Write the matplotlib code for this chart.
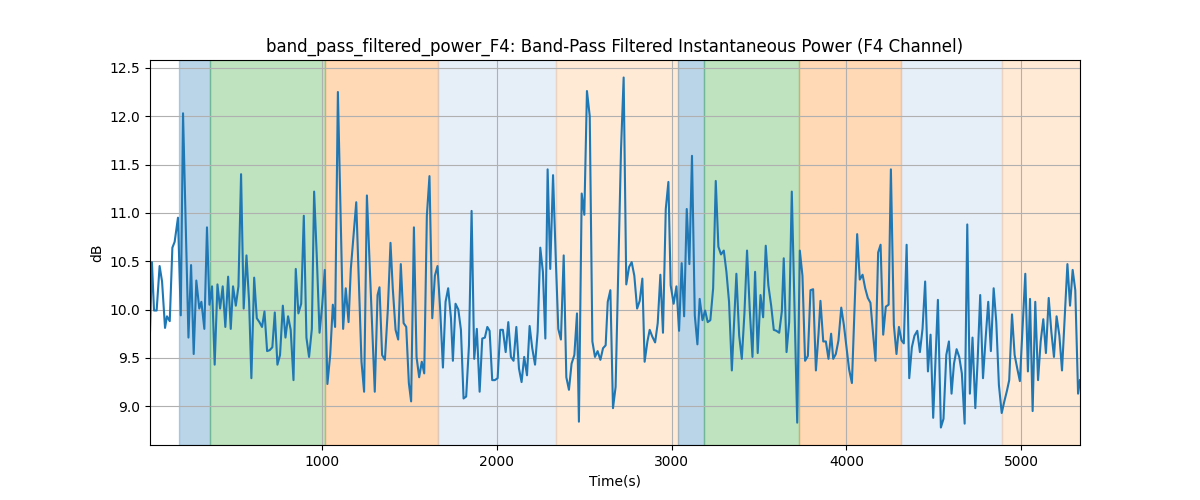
import numpy as np
import matplotlib
matplotlib.use('Agg')
import matplotlib.pyplot as plt

# time stamps (s) and band-pass filtered power (dB)
times = [15, 26, 38, 53, 70, 84, 101, 112, 128, 143, 156, 175, 191, 204, 235,
         250, 265, 280, 297, 309, 326, 341, 355, 370, 385, 401, 416, 431, 446,
         462, 477, 490, 506, 521, 536, 551, 567, 582, 595, 611, 626, 641, 656,
         670, 685, 700, 715, 729, 744, 759, 775, 790, 805, 820, 836, 849, 864,
         880, 895, 910, 925, 941, 954, 969, 985, 1000, 1015, 1030, 1046, 1061,
         1074, 1090, 1120, 1135, 1151, 1164, 1195, 1225, 1240, 1256, 1301, 1317,
         1328,
         1343, 1359, 1376, 1391, 1404, 1420, 1435, 1450, 1466, 1481, 1496, 1509,
         1525, 1540, 1555, 1570, 1584, 1599, 1614, 1630, 1645, 1660, 1675, 1691,
         1706, 1721, 1737, 1748, 1763, 1779, 1794, 1809, 1824, 1840, 1855, 1870,
         1885, 1901, 1916, 1931, 1945, 1958, 1973, 1988, 2004, 2019, 2034, 2050,
         2065, 2080, 2095, 2111, 2126, 2141, 2156, 2172, 2187, 2202, 2218, 2233,
         2248, 2263, 2277, 2290, 2305, 2321, 2336, 2351, 2366, 2382, 2397, 2412,
         2427, 2443, 2458, 2469, 2485, 2500, 2515, 2531, 2546, 2561, 2576, 2592,
         2607, 2622,
         2634, 2649, 2664, 2679, 2710, 2725, 2740, 2756, 2771, 2786, 2802, 2817,
         2832, 2845, 2861, 2874, 2889, 2905, 2920, 2935, 2950, 2966, 2981, 2994,
         3011, 3027, 3042, 3057, 3071, 3086, 3101, 3116, 3132, 3147, 3160, 3176,
         3191, 3206, 3221, 3237, 3252, 3267, 3282, 3298, 3313, 3328, 3344, 3359,
         3370, 3386, 3401, 3416, 3431, 3447, 3462, 3477, 3492, 3508, 3523, 3538,
         3553, 3569, 3584, 3599, 3615, 3630, 3641, 3657, 3672, 3687, 3718, 3733,
         3748, 3763, 3779, 3794, 3809, 3825, 3840, 3851, 3867, 3882, 3897, 3912,
         3924, 3939, 3954, 3970, 3985, 4000, 4015, 4031, 4046, 4061, 4076, 4092,
         4107, 4122, 4137, 4153, 4166, 4181, 4195, 4210, 4225, 4241, 4254, 4271,
         4286, 4300, 4315, 4328, 4344, 4359, 4374, 4389, 4405, 4420, 4435, 4450,
         4466, 4481, 4496, 4523, 4540, 4555, 4571, 4586, 4601, 4615, 4630, 4645,
         4660, 4676, 4691, 4706, 4721, 4737, 4750, 4765, 4781, 4796, 4811, 4826,
         4842, 4857, 4872, 4888, 4903, 4918, 4931, 4947, 4962, 4977, 4992, 5023,
         5038, 5050, 5065, 5080, 5096, 5111, 5126, 5141, 5157, 5172, 5187, 5202,
         5218, 5233, 5264, 5279, 5294, 5309, 5325, 5336]

power_db = [9.77, 10.49, 9.99, 9.99, 10.45, 10.29, 9.81, 9.93, 9.88, 10.64, 10.70,
            10.95, 9.94, 12.03, 9.71, 10.46, 9.54, 10.30, 10.01, 10.08, 9.80,
            10.85, 10.05, 10.24, 9.43, 10.26, 10.01, 10.24, 9.82, 10.34, 9.80,
            10.24, 10.04, 10.24, 11.40, 10.01, 10.56, 10.08, 9.29, 10.33, 9.91,
            9.87, 9.82, 9.98, 9.57, 9.58, 9.61, 9.97, 9.43, 9.53, 10.04, 9.71,
            9.93, 9.79, 9.27, 10.42, 9.96, 10.06, 10.97, 9.71, 9.51, 9.80, 11.22,
            10.56, 9.76, 10.04, 10.41, 9.23, 9.53, 10.05, 9.82, 12.25, 9.80,
            10.22, 9.87, 10.42, 11.11, 9.46, 9.15, 11.18, 9.15, 10.15, 10.23,
            9.53, 9.48, 10.01, 10.69, 10.22, 9.79, 9.69, 10.47, 9.86, 9.82, 9.24,
            9.05, 10.85, 9.51, 9.30, 9.46, 9.34, 10.97, 11.38, 9.91, 10.35, 10.45,
            10.01, 9.40, 10.08, 10.22, 9.91, 9.47, 10.06, 10.00, 9.79, 9.08, 9.10,
            9.63, 11.02, 9.49, 9.80, 9.15, 9.70, 9.71, 9.82, 9.78, 9.27, 9.27,
            9.29, 9.79, 9.79, 9.56, 9.87, 9.51, 9.47, 9.82, 9.39, 9.25, 9.51,
            9.32, 9.83, 9.60, 9.43, 9.77, 10.64, 10.39, 9.70, 11.45, 10.42, 11.39,
            10.56, 9.80, 9.69, 10.56, 9.30, 9.17, 9.44, 9.53, 9.96, 8.84, 11.20,
            10.98, 12.26, 12.00, 9.67, 9.51, 9.57, 9.48, 9.60, 9.63,
            10.08, 10.20, 8.98, 9.20, 11.66, 12.40, 10.26, 10.44, 10.49, 10.35,
            10.01, 10.09, 10.32, 9.46, 9.67, 9.79, 9.72, 9.66, 9.86, 10.36, 9.76,
            11.04, 11.32, 10.25, 10.06, 10.24, 9.78, 10.48, 9.93, 11.04, 10.47,
            11.59, 9.94, 9.64, 10.11, 9.89, 9.99, 9.87, 9.89, 10.22, 11.33, 10.65,
            10.57, 10.61, 10.39, 10.08, 9.37, 9.94, 10.37, 9.73, 9.49, 9.96, 10.61,
            9.98, 9.51, 10.39, 9.55, 10.15, 9.92, 10.66, 10.25, 10.04, 9.79, 9.78,
            9.76, 9.98, 10.53, 9.56, 9.87, 11.22, 8.83, 10.61, 10.35, 9.47, 9.52,
            10.20, 10.21, 9.37, 9.75, 10.09, 9.67, 9.67, 9.49, 9.75,
            9.49, 9.54, 9.68, 10.02, 9.84, 9.61, 9.38, 9.24, 10.01, 10.78, 10.31,
            10.36, 10.22, 10.12, 10.07, 9.73, 9.47, 10.59, 10.67, 9.74, 10.03,
            10.05, 11.45, 9.84, 9.54, 9.82, 9.68, 9.65, 10.67, 9.29, 9.61, 9.73,
            9.78, 9.56, 9.80, 10.29, 9.36, 9.74, 8.88, 10.10, 8.78, 8.87, 9.53,
            9.67, 9.13, 9.44, 9.59, 9.51, 9.34, 8.82, 10.88, 9.13, 9.71, 8.98,
            9.46, 10.15, 9.29, 9.70, 10.08, 9.57, 10.22, 9.87, 9.22, 8.93, 9.05,
            9.16, 9.27, 9.95, 9.53, 9.39, 9.26, 10.37, 9.36, 10.11, 8.95, 10.08,
            9.27, 9.67, 9.90, 9.55, 10.12, 9.77, 9.51, 9.93, 9.73, 9.37, 10.47,
            10.04, 10.41, 10.20, 9.13, 9.27]

# shaded segments: start, end, colour
seg_start = [183, 357, 1019, 1664, 2338, 3038, 3187, 3729, 4309, 4891]
seg_end = [357, 1019, 1664, 2338, 3038, 3187, 3729, 4309, 4891, 5336]
seg_color = ['#1f77b4', '#2ca02c', '#ff7f0e', '#aec7e8', '#ffbb78',
             '#1f77b4', '#2ca02c', '#ff7f0e', '#aec7e8', '#ffbb78']

fig, ax = plt.subplots(figsize=(12, 5), dpi=100)

for s, e, c in zip(seg_start, seg_end, seg_color):
    ax.axvspan(s, e, color=c, alpha=0.3)

ax.plot(times, power_db, color='#1f77b4')
ax.set_xlim(times[0], times[-1])
ax.grid(True)
ax.set_title('band_pass_filtered_power_F4: Band-Pass Filtered Instantaneous Power (F4 Channel)')
ax.set_xlabel('Time(s)')
ax.set_ylabel('dB')

plt.savefig('out.png')
